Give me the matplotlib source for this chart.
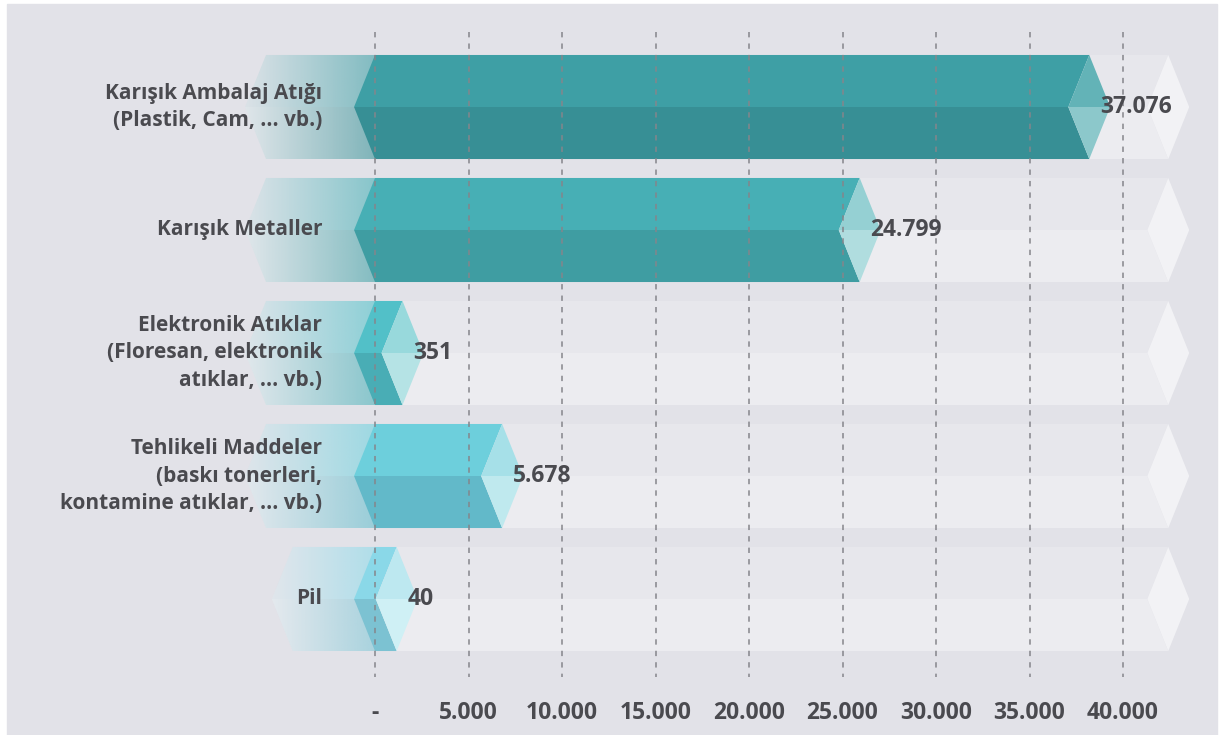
import numpy as np
import matplotlib
matplotlib.use("Agg")
import matplotlib.pyplot as plt
from matplotlib.patches import Polygon, Rectangle

plt.rcParams['font.family'] = ['Open Sans', 'DejaVu Sans']

# data
categories = [
    "Karışık Ambalaj Atığı\n(Plastik, Cam, ... vb.)",
    "Karışık Metaller",
    "Elektronik Atıklar\n(Floresan, elektronik\natıklar, ... vb.)",
    "Tehlikeli Maddeler\n(baskı tonerleri,\nkontamine atıklar, ... vb.)",
    "Pil",
]
values = [37076, 24799, 351, 5678, 40]
value_labels = ["37.076", "24.799", "351", "5.678", "40"]
ticks = [0, 5000, 10000, 15000, 20000, 25000, 30000, 35000, 40000]
tick_labels = ["-", "5.000", "10.000", "15.000", "20.000", "25.000", "30.000", "35.000", "40.000"]

# bar colours (top face, bottom face, cap top, cap bottom)
top_cols = ["#3e9fa5", "#47afb5", "#52c0c8", "#6dcfdc", "#8ad8e8"]
bot_cols = ["#378f95", "#3f9da2", "#49adb5", "#62b9c9", "#7cc2d2"]
cap_top = ["#63b3b7", "#95d0d3", "#98d9dc", "#a6e0e8", "#bde8f0"]
cap_bot = ["#8cc8cb", "#b0dddf", "#b5e3e5", "#bfe9ee", "#cff0f5"]

text_col = "#4a4a4f"
bg_col = "#e2e2e8"

fig = plt.figure(figsize=(12.21, 7.35), dpi=100)
fig.patches.append(Rectangle((7 / 1221, 0), 1210 / 1221, 731 / 735,
                             transform=fig.transFigure, color=bg_col, zorder=-5))
ax = fig.add_axes([0, 0, 1, 1])
ax.set_facecolor("none")
ax.axis("off")

d = 1120        # width of the pointed ends
h = 0.423       # half band height
band_end = 41300


def poly(pts, color, z):
    p = Polygon(pts, closed=True, facecolor=color, edgecolor="none", zorder=z)
    ax.add_patch(p)
    return p


for i, (cat, v, lab) in enumerate(zip(categories, values, value_labels)):
    y = i
    bl = -4400 if len(cat) < 5 else -5830

    # light track band
    poly([(bl - d, y), (bl, y - h), (band_end + d, y - h), (band_end, y)], "#e7e7ec", 1)
    poly([(bl - d, y), (bl, y + h), (band_end + d, y + h), (band_end, y)], "#ececf0", 1)
    poly([(band_end, y), (band_end + d, y - h), (band_end + 2 * d, y),
          (band_end + d, y + h)], "#f2f2f5", 1)

    # fading gradient behind the label
    for col, sgn in ((top_cols[i], -1), (bot_cols[i], 1)):
        rgb = matplotlib.colors.to_rgb(col)
        n = 200
        img = np.zeros((1, n, 4))
        img[..., :3] = rgb
        img[0, :, 3] = np.linspace(0.07, 0.6, n)
        clip = Polygon([(bl - d, y), (bl, y + sgn * h), (0, y + sgn * h), (0, y)],
                       closed=True, transform=ax.transData)
        im = ax.imshow(img, extent=[bl - d, 0, y, y + sgn * h], aspect="auto",
                       interpolation="bilinear", zorder=2)
        im.set_clip_path(clip)

    # bar body
    poly([(-d, y), (0, y - h), (v + d, y - h), (v, y)], top_cols[i], 3)
    poly([(-d, y), (0, y + h), (v + d, y + h), (v, y)], bot_cols[i], 3)
    # end cap
    poly([(v, y), (v + d, y - h), (v + 2 * d, y)], cap_top[i], 3)
    poly([(v, y), (v + d, y + h), (v + 2 * d, y)], cap_bot[i], 3)

    ax.text(v + 1.5 * d, y, lab, ha="left", va="center", fontsize=16.5,
            fontweight="bold", color=text_col, zorder=6)
    ax.text(-2830, y, cat, ha="right", va="center", ma="right", fontsize=15,
            fontweight="bold", color=text_col, linespacing=1.42, zorder=6)

# dashed grid lines
ax.vlines(ticks, -0.61, 4.634, colors="#85858b", linestyles=(0, (3.5, 4)),
          linewidth=1.1, zorder=5)
for t, tl in zip(ticks, tick_labels):
    ax.text(t, 4.93, tl, ha="center", va="center", fontsize=16.5,
            fontweight="bold", color=text_col)

px = 40000 / 748
ax.set_xlim(-375 * px, (1221 - 375) * px)
ax.set_ylim((735 - 107) / 123, -107 / 123)

fig.savefig("out.png", dpi=100)
